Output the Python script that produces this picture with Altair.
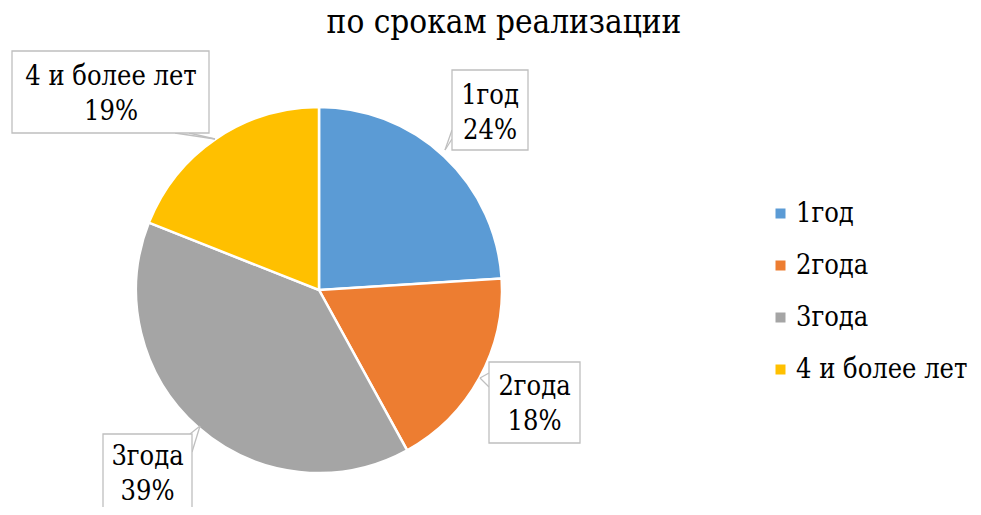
import altair as alt
import pandas as pd

# ---- data ----
categories = ["1год", "2года", "3года", "4 и более лет"]
shares = [24, 18, 39, 19]
colors = ["#5B9BD5", "#ED7D31", "#A5A5A5", "#FFC000"]
title_text = "по срокам реализации"

# ---- layout (page pixels) ----
W, PT, H = 965, 40, 459
OX, OY = 8, 8 + PT


def vx(p):
    return p - OX


def vy(p):
    return p - OY


pie_cx, pie_cy, pie_r = 319, 290, 183

box_layout = [(452, 528, 70, 150), (489, 580, 362, 443), (103, 192, 434, 540), (12, 209, 51, 133)]
text_layout = [(490, 104), (534.5, 395), (147.5, 465), (111, 85)]
pointer_layout = [
    [(452, 130, 445, 150), (452, 139, 445, 150)],
    [(489, 373, 480, 378), (489, 387, 480, 378)],
    [(190, 434, 200, 426), (192, 452, 200, 426)],
    [(175, 133, 215, 139), (189, 133, 215, 139)],
]
title_pos = (504, 33)

pie_df = pd.DataFrame({"cat": categories, "share": shares, "idx": list(range(len(categories)))})

lab_df = pd.DataFrame({
    "cat": categories,
    "text": [f"{c}\n{s}%" for c, s in zip(categories, shares)],
    "bx0": [vx(b[0]) for b in box_layout],
    "bx1": [vx(b[1]) for b in box_layout],
    "by0": [vy(b[2]) for b in box_layout],
    "by1": [vy(b[3]) for b in box_layout],
    "tx": [vx(t[0]) for t in text_layout],
    "ty": [vy(t[1]) for t in text_layout],
})

ptr_rows = []
for c, segs in zip(categories, pointer_layout):
    for (x0, y0, x1, y1) in segs:
        ptr_rows.append({"cat": c, "x0": vx(x0), "y0": vy(y0), "x1": vx(x1), "y1": vy(y1)})
ptr_df = pd.DataFrame(ptr_rows)

title_df = pd.DataFrame({"t": [title_text], "x": [vx(title_pos[0])], "y": [vy(title_pos[1])]})

xs = alt.Scale(domain=[0, W], range=[0, W], nice=False, zero=False)
ys = alt.Scale(domain=[0, H], range=[0, H], nice=False, zero=False)

FONT = "DejaVu Serif Condensed, DejaVu Serif"

pie = alt.Chart(pie_df).mark_arc(radius=pie_r, stroke="white", strokeWidth=2.5).encode(
    theta=alt.Theta("share:Q", stack=True),
    order=alt.Order("idx:Q"),
    color=alt.Color(
        "cat:N",
        sort=categories,
        scale=alt.Scale(domain=categories, range=colors),
        legend=alt.Legend(
            title=None,
            orient="none",
            legendX=759,
            legendY=152,
            symbolType="square",
            symbolSize=100,
            symbolStrokeWidth=0,
            labelFont=FONT,
            labelFontSize=27,
            labelColor="black",
            labelOffset=2,
            labelLimit=0,
            rowPadding=24,
            padding=0,
        ),
    ),
    x=alt.value(vx(pie_cx)),
    y=alt.value(vy(pie_cy)),
)

pointers = alt.Chart(ptr_df).mark_rule(color="#BFBFBF", strokeWidth=1.3).encode(
    x=alt.X("x0:Q", scale=xs, axis=None),
    y=alt.Y("y0:Q", scale=ys, axis=None),
    x2="x1:Q",
    y2="y1:Q",
)

boxes = alt.Chart(lab_df).mark_rect(fill="white", stroke="#BFBFBF", strokeWidth=1.3).encode(
    x=alt.X("bx0:Q", scale=xs, axis=None),
    x2="bx1:Q",
    y=alt.Y("by0:Q", scale=ys, axis=None),
    y2="by1:Q",
)

texts = alt.Chart(lab_df).mark_text(
    font=FONT, fontSize=27, color="black", align="center", baseline="alphabetic",
    lineBreak="\n", lineHeight=35,
).encode(
    x=alt.X("tx:Q", scale=xs, axis=None),
    y=alt.Y("ty:Q", scale=ys, axis=None),
    text="text:N",
)

title = alt.Chart(title_df).mark_text(
    font=FONT, fontSize=33, color="black", align="center", baseline="alphabetic",
).encode(
    x=alt.X("x:Q", scale=xs, axis=None),
    y=alt.Y("y:Q", scale=ys, axis=None),
    text="t:N",
)

chart = alt.layer(pie, pointers, boxes, texts, title).properties(
    width=W,
    height=H,
    autosize=alt.AutoSizeParams(type="none"),
    padding={"left": 0, "top": PT, "right": 0, "bottom": 0},
).configure_view(stroke=None).resolve_scale(x="shared", y="shared")

chart.save("out.html", embed_options={"renderer": "svg", "actions": False})
